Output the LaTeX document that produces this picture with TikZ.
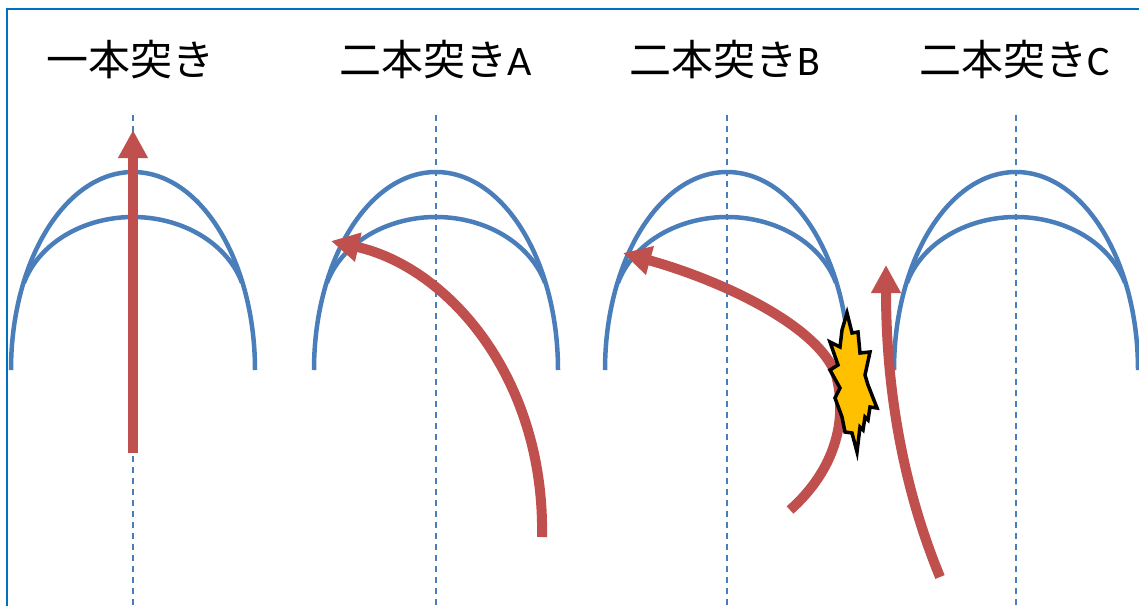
\documentclass[tikz,border=0pt]{standalone}
\usepackage{fontspec}
\newfontfamily\jpfont{Noto Sans CJK JP}
\newfontfamily\latfont{Carlito}
\usetikzlibrary{arrows.meta}
\definecolor{archblue}{HTML}{4A7EBB}
\definecolor{redarrow}{HTML}{C0504D}
\definecolor{frameblue}{HTML}{0070C0}
\definecolor{boom}{HTML}{FFC000}
\begin{document}
\begin{tikzpicture}[x=1pt,y=-1pt,
  title/.style={font=\fontsize{42}{48}\selectfont, anchor=base, inner sep=0pt},
  axisline/.style={draw=archblue, line width=1.3pt, dash pattern=on 6pt off 5pt},
  arch/.style={draw=archblue, line width=4.5pt},
  thrust/.style={draw=redarrow, line width=10pt, -{Triangle[width=28pt,length=28pt]}},
  burst/.style={draw=black, fill=boom, line width=3.5pt, line join=miter}]
\useasboundingbox (0,0) rectangle (1139,605);
\fill[white] (0,0) rectangle (1139,605);
% frame
\draw[frameblue, line width=2pt] (7,606) -- (7,9) -- (1140,9);
% titles
\node[title] (t1) at (130,75) {\jpfont 一本突き};
\node[title] (t2) at (436,75) {\jpfont 二本突き\latfont A};
\node[title] (t3) at (725,75) {\jpfont 二本突き\latfont B};
\node[title] (t4) at (1015,75) {\jpfont 二本突き\latfont C};
% axes and arches
\foreach \c in {133,436,727,1016} {
  \draw[axisline] (\c,115) -- (\c,605);
  \draw[arch] (\c-122,370) arc[start angle=180, end angle=360, x radius=122, y radius=198];
  \draw[arch] (\c,310) ++(197:114 and 93) arc[start angle=197, end angle=343, x radius=114, y radius=93];
}
% thrusts
\coordinate (a1s) at (133,453);
\coordinate (a1e) at (133,130);
\draw[thrust] (a1s) -- (a1e);
\coordinate (a2s) at (542,537);
\coordinate (a2e) at (331,241);
\draw[thrust] (a2s) .. controls (545,380) and (450,268) .. (a2e);
\coordinate (a3s) at (790,510);
\coordinate (a3m) at (836,375);
\coordinate (a3e) at (623,253);
\draw[thrust] (a3s) .. controls (835,470) and (848,420) .. (a3m) .. controls (818,325) and (720,280) .. (a3e);
\coordinate (a4s) at (940,577);
\coordinate (a4e) at (886,265);
\draw[thrust] (a4s) .. controls (900,480) and (886,380) .. (a4e);
% collision burst
\draw[burst] (847,313) -- (852,333) -- (858,332) -- (860,353) -- (870,352) -- (865,375)
  -- (868,385) -- (877,408) -- (870,407) -- (868,420) -- (865,417) -- (863,430)
  -- (860,427) -- (857,452) -- (852,433) -- (845,432) -- (842,417) -- (835,398)
  -- (840,388) -- (830,370) -- (838,365) -- (830,342) -- (840,347) -- (842,330) -- cycle;
\end{tikzpicture}
\end{document}
